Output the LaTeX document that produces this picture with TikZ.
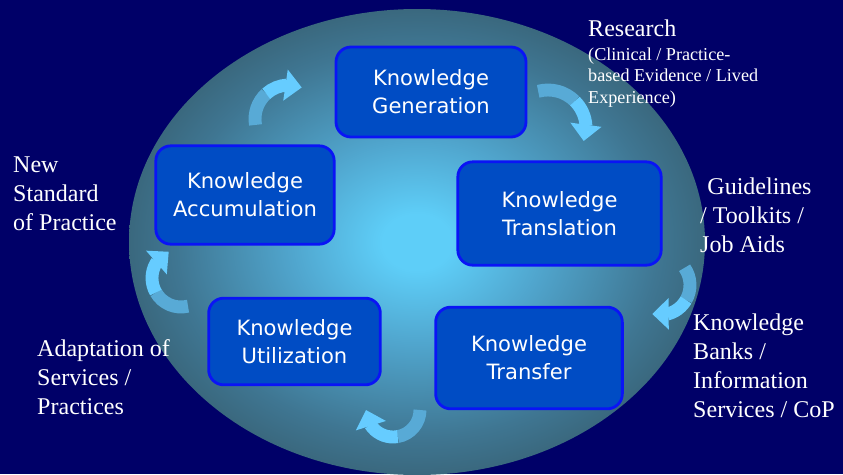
\documentclass[tikz,border=0pt]{standalone}
\usepackage{fontspec}
\newfontfamily\boxfont{DejaVu Sans}
\newfontfamily\sidefont{Liberation Serif}
\usetikzlibrary{arrows.meta,bending}

\definecolor{navybg}{RGB}{0,0,104}
\definecolor{glowin}{RGB}{94,206,248}
\definecolor{glowmid}{RGB}{80,165,205}
\definecolor{glowrim}{RGB}{63,118,146}
\definecolor{glowout}{RGB}{58,104,126}
\definecolor{kfill}{RGB}{0,76,196}
\definecolor{kedge}{RGB}{10,20,245}
\definecolor{arrlight}{RGB}{102,204,255}
\definecolor{arrdark}{RGB}{88,170,214}

\pgfdeclareradialshading{glow}{\pgfpoint{0bp}{0bp}}{color(0bp)=(glowin); color(3bp)=(glowin); color(11bp)=(glowmid); color(21bp)=(glowrim); color(25bp)=(glowout); color(50bp)=(glowout)}

\begin{document}
\begin{tikzpicture}[x=0.03cm,y=-0.03cm]

		\tikzset{kbox/.style = {draw=kedge,line width=2.4pt,fill=kfill,rounded corners=0.45cm,text=white,align=center,font=\boxfont\fontsize{18}{24}\selectfont}}
		\tikzset{side/.style = {text=white,align=left,inner sep=0pt,anchor=base west,font=\sidefont\fontsize{20.5}{24.6}\selectfont}}
		\tikzset{turnback/.style = {draw=arrdark,line width=11pt}}
		\tikzset{turnfront/.style = {draw=arrlight,line width=11pt,-{Triangle[length=14pt,width=26pt]}}}
		% background
		\useasboundingbox (0,0) rectangle (843,474);
		\fill[navybg] (0,0) rectangle (843,474);
		\clip (0,0) rectangle (843,474);
		\shade[shading=glow] (417,242) ellipse [x radius=288, y radius=233];
		% turning points
		\coordinate (ag) at (289,119);
		\coordinate (gt) at (548,128);
		\coordinate (tt) at (660,285);
		\coordinate (tu) at (393,410);
		\coordinate (ua) at (181,278);
		% cycle arrows
		\draw[turnback] ([shift={(170:34)}]ag) arc[start angle=170,end angle=228,radius=34];
		\draw[turnfront] ([shift={(228:34)}]ag) arc[start angle=228,end angle=292,radius=34];
		\draw[turnback] ([shift={(-105:38)}]gt) arc[start angle=-105,end angle=-45,radius=38];
		\draw[turnfront] ([shift={(-45:38)}]gt) arc[start angle=-45,end angle=20,radius=38];
		\draw[turnback] ([shift={(-35:30)}]tt) arc[start angle=-35,end angle=30,radius=30];
		\draw[turnfront] ([shift={(30:30)}]tt) arc[start angle=30,end angle=105,radius=30];
		\draw[turnback] ([shift={(0:27)}]tu) arc[start angle=0,end angle=80,radius=27];
		\draw[turnfront] ([shift={(80:27)}]tu) arc[start angle=80,end angle=180,radius=27];
		\draw[turnback] ([shift={(76:29)}]ua) arc[start angle=76,end angle=150,radius=29];
		\draw[turnfront] ([shift={(150:29)}]ua) arc[start angle=150,end angle=245,radius=29];
		% stages
		\node[kbox,minimum width=5.7cm,minimum height=2.7cm] (gen) at (431,92) {Knowledge\\Generation};
		\node[kbox,minimum width=6.1cm,minimum height=3.1cm] (trans) at (559.5,213.5) {Knowledge\\Translation};
		\node[kbox,minimum width=5.6cm,minimum height=3.05cm] (transfer) at (529,358) {Knowledge\\Transfer};
		\node[kbox,minimum width=5.15cm,minimum height=2.6cm] (util) at (294.5,341.5) {Knowledge\\Utilization};
		\node[kbox,minimum width=5.35cm,minimum height=2.95cm] (accum) at (245,195) {Knowledge\\Accumulation};
		% outputs (anchored at the last line)
		\node[side] (research) at (588,36) {Research};
		\node[side,font=\sidefont\fontsize{15.5}{18.3}\selectfont] (evidence) at (588,103) {(Clinical / Practice-\\based Evidence / Lived\\Experience)};
		\node[side] (guides) at (700,252) {\hspace{0.3em}Guidelines\\/ Toolkits /\\Job Aids};
		\node[side] (banks) at (693,417) {Knowledge\\Banks /\\Information\\Services / CoP};
		\node[side] (adapt) at (37,414) {Adaptation of\\Services /\\Practices};
		\node[side] (standard) at (13,230) {New\\Standard\\of Practice};
\end{tikzpicture}
\end{document}
